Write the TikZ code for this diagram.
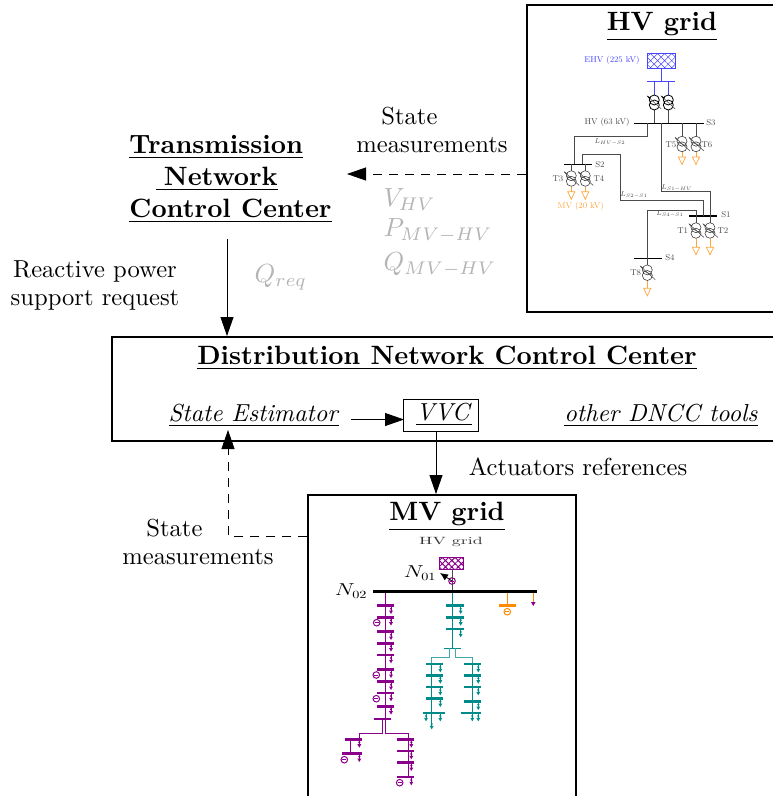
\documentclass[tikz,border=0pt]{standalone}
\usetikzlibrary{arrows.meta, positioning, patterns.meta}
\definecolor{cgrey}{HTML}{B4B4B4}
\definecolor{cline}{HTML}{4A4A4A}
\definecolor{cblue}{HTML}{4646FF}
\definecolor{corange}{HTML}{FFA53C}
\definecolor{cdkorange}{HTML}{FF8C00}
\definecolor{cpurple}{HTML}{8B008B}
\definecolor{cteal}{HTML}{008B8B}
\tikzset{
  mainbox/.style={draw, line width=2pt, inner sep=0pt},
  title/.style={font=\fontsize{10}{12.1}\selectfont\bfseries, scale=2.65, align=center, inner sep=0pt},
  body/.style={font=\fontsize{10}{11.4}\selectfont, scale=2.46, align=center, inner sep=0pt},
  statevar/.style={font=\fontsize{10}{12}\selectfont, scale=2.62, text=cgrey, anchor=west, inner sep=0pt},
  small/.style={font=\fontsize{8.5}{10}\selectfont, text=cline, inner sep=0pt},
  stretched/.style={inner sep=0pt, xscale=1.3},
  arrow/.style={-{Triangle[length=19pt, width=13pt]}, line width=.8pt},
  dasharrow/.style={arrow, dash pattern=on 9pt off 7pt},
  bus/.style={line width=1.3pt},
  hvline/.style={cline, line width=.8pt},
  mvbar/.style={line width=2.8pt},
  mvline/.style={line width=.8pt},
  pics/xfo/.style={code={
    \draw[line width=.55pt, draw=black!80] (0,5.2) circle (5) (0,10.8) circle (5);
    \draw[line width=.55pt, cline] (-7,1.5) -- (8,15);
    \draw[line width=.55pt, cline] (-4,6) -- (4,10);
    \fill (-7.5,.8) -- (-4,3) -- (-5,4.3) -- cycle;
  }},
  pics/hvload/.style={code={
    \draw[corange, line width=.7pt] (-3.6,0) -- (3.6,0) -- (0,7.5) -- cycle;
  }},
  pics/mvload/.style={code={
    \draw[line width=.7pt] (0,0) -- (0,5);
    \fill (0,3) circle (1.2);
    \fill (-2,4.8) -- (2,4.8) -- (0,8.3) -- cycle;
  }},
  pics/mvgen/.style={code={
    \draw[line width=1pt] (0,0) circle (3.3);
    \draw[line width=.7pt] (-1.9,0) -- (1.9,0);
  }},
}

\begin{document}
\begin{tikzpicture}[x=1pt, y=-1pt]
  \clip (0,0) rectangle (773,796);
  % main boxes
  \node[mainbox, anchor=north west, minimum width=260pt, minimum height=307pt] (hvbox) at (525.5,4) {};
  \node[mainbox, anchor=north west, minimum width=680pt, minimum height=104pt] (dnccbox) at (111,335.5) {};
  \node[mainbox, anchor=north west, minimum width=268pt, minimum height=320pt] (mvbox) at (307,494) {};
  \node[draw, line width=.8pt, minimum width=30.5pt, minimum height=13pt, inner sep=0pt, scale=2.46, font=\fontsize{10}{12}\selectfont] (vvc) at (441,415) {\hspace*{2.4pt}\underline{\textit{VVC}}};

  % titles and texts
  \node[title] (hvtitle) at (662,27) {\underline{HV grid}};
  \node[title, align=left, inner ysep=6pt] (tncc) at (230.5,179) {\underline{Transmission}\\\hspace*{10pt}\underline{\hspace*{3pt}Network}\\\underline{Control Center}};
  \node[title] (dncctitle) at (447,358.5) {\underline{Distribution Network Control Center}};
  \node[title] (mvtitle) at (447,516.5) {\underline{MV grid}};
  \node[body] (stateest) at (254,416) {\underline{\textit{State Estimator}}};
  \node[body] (others) at (661,416) {\underline{\textit{other DNCC tools}}};
  \node[body, align=left] (hvmeas) at (432,130) {\hspace*{10.2pt}State\\measurements};
  \node[body, align=left] (mvmeas) at (198,542) {\hspace*{9.8pt}State\\measurements};
  \node[body] (request) at (95,285) {Reactive power\\support request};
  \node[body] (actuators) at (578,467) {Actuators references};
  \foreach \nam/\y/\lab in {vhv/200/{V_{HV}}, pmv/231/{P_{MV-HV}}, qmv/265/{Q_{MV-HV}}}
    \node[statevar] (\nam) at (383,\y) {$\lab$};
  \node[statevar] (qreq) at (254,277) {$Q_{req}$};

  % connectors
  \coordinate (tnccin) at (347,174);
  \coordinate (dnccin) at (227,336);
  \coordinate (estout) at (351,419.5);
  \coordinate (vvcin) at (404,419.5);
  \coordinate (mvin) at (436,494);
  \coordinate (mvout) at (307,536);
  \coordinate (estin) at (228,430);
  \draw[dasharrow] (hvbox.west |- tnccin) -- (tnccin);
  \draw[arrow] (tncc.south -| dnccin) -- (dnccin);
  \draw[arrow] (estout) -- (vvcin);
  \draw[arrow] (vvc.south -| mvin) -- (mvin);
  \draw[dasharrow] (mvout) -| (estin);

  % HV grid
  \node[small, text=cblue] (ehv) at (612,60) {EHV (225 kV)};
  \node[small] (hv63) at (607,122) {HV (63 kV)};
  \node[small, text=corange] (mv20) at (580.7,206.7) {MV (20 kV)};
  \draw[cblue, line width=.6pt, pattern={Hatch[angle=45, distance=5pt, line width=.5pt]}, pattern color=cblue] (647.3,53.3) rectangle (675.7,68.3);
  \draw[cblue, line width=.8pt] (661.3,68.3) -- (661.3,81.5);
  \draw[cblue, bus] (647,81.5) -- (675,81.5);
  \foreach \x in {654.3,668.3} {
    \draw[cblue, line width=.8pt] (\x,81.5) -- (\x,95);
    \draw[hvline] (\x,110) -- (\x,123.3);
    \draw[line width=.8pt] (\x,100) circle (5) (\x,105) circle (5);
    \draw[line width=.5pt, cline] (\x-7,96) -- (\x+7,109);
    \fill (\x-7.5,95.5) -- (\x-4,97.5) -- (\x-5,99) -- cycle;
  }
  \draw[bus] (634,123.3) -- (703.7,123.3);
  \draw[bus] (564,164.3) -- (591.7,164.3);
  \draw[bus] (689,216) -- (717,216);
  \draw[bus] (634,258.3) -- (661.7,258.3);
  \draw[hvline] (647.3,123.3) -- (647.3,136.7) -- (574.7,136.7) -- (574.7,164.3);
  \draw[hvline] (661.3,123.3) -- (661.3,191.7) -- (710,191.7) -- (710,216);
  \draw[hvline] (582.3,164.3) -- (582.3,154.3) -- (620.7,154.3) -- (620.7,200) -- (703.3,200) -- (703.3,216);
  \draw[hvline] (647.3,258.3) -- (647.3,210) -- (696.3,210) -- (696.3,216);
  \foreach \x/\ybus/\ytop/\ytri/\nam/\lx in {682/123.3/136/157/T5/671, 696/123.3/136/157/T6/707,
      571.3/164.3/170.5/191.7/T3/558, 585.3/164.3/170.5/191.7/T4/599,
      696/216/222.5/247.3/T1/682.7, 710/216/222.5/247.3/T2/723,
      647.3/258.3/264.7/288.3/T8/635.7} {
    \draw[hvline] (\x,\ybus) -- (\x,\ytop);
    \pic[cline] at (\x,\ytop) {xfo};
    \draw[corange, line width=.7pt] (\x,\ytop+16) -- (\x,\ytri);
    \pic at (\x,\ytri) {hvload};
    \node[small] (lab\nam) at (\lx,\ytop+8.5) {\nam};
  }
  \foreach \nam/\x/\y in {S3/711/123, S2/600/164.5, S1/726/215, S4/670/258}
    \node[small] (lab\nam) at (\x,\y) {\nam};
  \foreach \nam/\x/\y/\lab in {hvs2/610/142/{L_{HV-S2}}, s1hv/676.7/188/{L_{S1-HV}}, s2s1/634/195/{L_{S2-S1}}, s4s1/670/214/{L_{S4-S1}}}
    \node[small, font=\fontsize{7}{8}\selectfont] (l\nam) at (\x,\y) {$\lab$};

  % MV grid
  \node[stretched, xscale=1.31, font=\fontsize{10.5}{12}\selectfont, text=black!80] (hvlabel) at (451,542) {HV grid};
  \node[stretched, font=\fontsize{16}{18}\selectfont] (n01) at (420,573) {$N_{01}$};
  \node[stretched, font=\fontsize{16}{18}\selectfont] (n02) at (351,591) {$N_{02}$};
  \draw[cpurple, line width=1pt, pattern={Hatch[angle=45, distance=4.5pt, line width=1pt]}, pattern color=cpurple] (439.7,557.3) rectangle (463.3,569.3);
  \draw[cline, line width=.8pt] (452,569.3) -- (452,591);
  \pic[cpurple] at (452,581) {mvgen};
  \coordinate (genout) at (452,581);
  \coordinate (n01tip) at (440,573);
  \draw[-{Latex[length=8pt, width=7pt]}, line width=.8pt] (genout) -- (n01tip);
  % purple feeder
  \draw[cpurple, mvline] (385.3,591) -- (385.3,733.3) -- (408.7,733.3) -- (408.7,777);
  \draw[cpurple, mvline] (382.7,719) -- (382.7,733.3) -- (359.3,733.3) -- (359.3,739.3);
  \draw[cpurple, mvline] (350.7,739.3) -- (350.7,753.7);
  \foreach \y in {605.7,617.3,631.7,643.3,655,669.7,681.7,693,706.3} {
    \draw[cpurple, mvbar] (376.7,\y) -- (394,\y);
    \pic[cpurple] at (391,\y) {mvload};
  }
  \draw[cpurple, mvbar] (373.7,719) -- (391,719);
  \foreach \x/\y in {344.7/739.3, 342/753.7} {
    \draw[cpurple, mvbar] (\x,\y) -- (362.3,\y);
    \pic[cpurple] at (359.3,\y) {mvload};
  }
  \foreach \y in {739.3,751,762.7,777} {
    \draw[cpurple, mvbar] (397,\y) -- (414.3,\y);
    \pic[cpurple] at (411.3,\y) {mvload};
  }
  \foreach \x/\y in {376.7/622.7, 376.3/675, 376.3/698.7, 344.3/759.7, 399.7/782.7}
    \pic[cpurple] at (\x,\y) {mvgen};
  % teal feeders
  \draw[cteal, mvline] (452,591) -- (452,648.3);
  \draw[cteal, mvline] (443.7,648.3) -- (460.7,648.3);
  \draw[cteal!75, mvline] (449.3,648.3) -- (449.3,657.7) -- (431.7,657.7) -- (431.7,664);
  \draw[cteal!75, mvline] (455,648.3) -- (455,657.7) -- (472.7,657.7) -- (472.7,664);
  \draw[cteal, mvline] (431.7,664) -- (431.7,723);
  \draw[cteal, mvline] (472.7,664) -- (472.7,713);
  \foreach \y in {605.7,617.3,629} {
    \draw[cteal, mvbar] (446.3,\y) -- (463.7,\y);
    \pic[cteal] at (460.7,\y) {mvload};
  }
  \foreach \y in {664,675.3,687,698.7} {
    \draw[cteal, mvbar] (426,\y) -- (443.3,\y);
    \pic[cteal] at (440.3,\y) {mvload};
  }
  \foreach \y in {664,675.3,687,701.7} {
    \draw[cteal, mvbar] (464,\y) -- (481.3,\y);
    \pic[cteal] at (478.3,\y) {mvload};
  }
  \draw[cteal, mvbar] (423.3,713) -- (444.7,713);
  \draw[cteal, mvbar] (461,713) -- (481.3,713);
  \foreach \x/\y in {426/713, 440.3/713, 431.7/721, 472.3/713, 478.3/713}
    \pic[cteal] at (\x,\y) {mvload};
  % orange branch
  \draw[cdkorange, mvline] (507.3,591) -- (507.3,605.7);
  \draw[cdkorange, mvbar] (498.7,605.7) -- (516,605.7);
  \pic[cdkorange] at (507.3,611.7) {mvgen};
  \draw[cdkorange, mvline] (533.3,591) -- (533.3,602);
  \fill[cpurple] (531,602) -- (535.6,602) -- (533.3,606) -- cycle;
  % slack bus
  \draw[line width=3pt] (373.3,591) -- (536.7,591);
\end{tikzpicture}
\end{document}
